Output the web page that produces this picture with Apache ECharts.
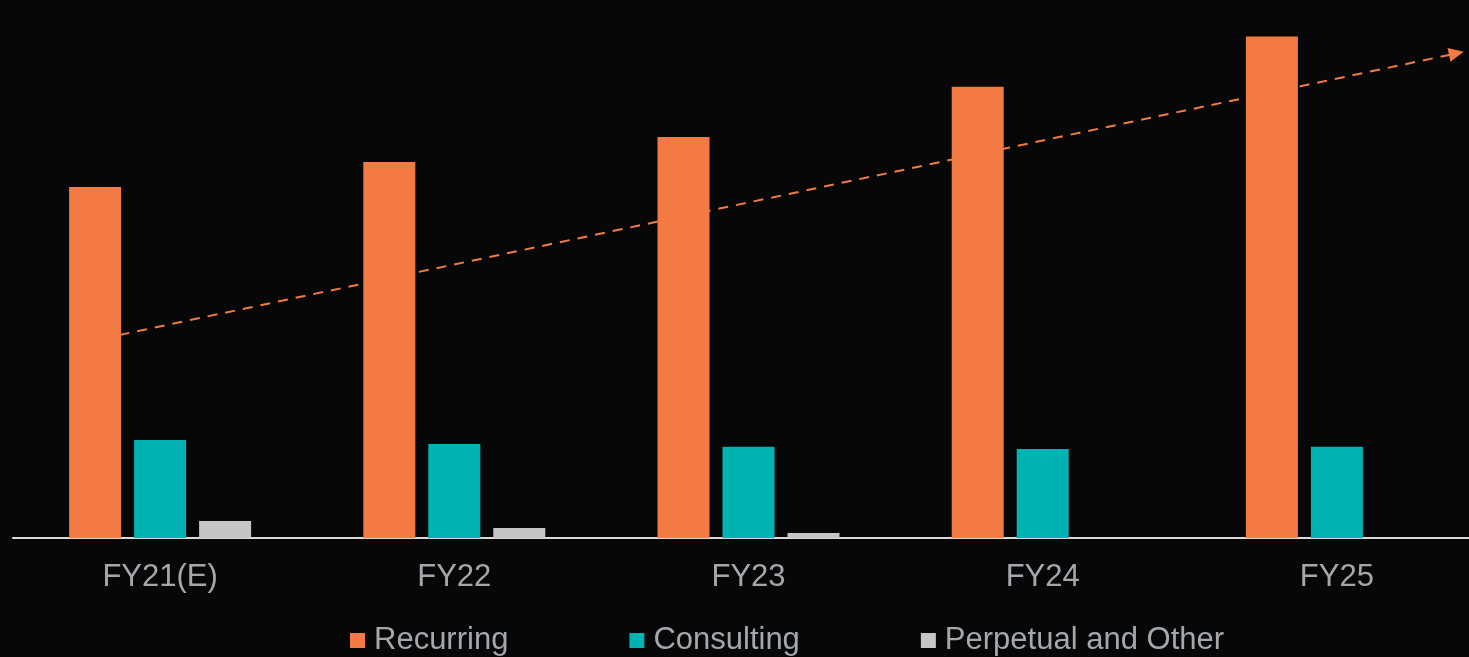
<!DOCTYPE html>
<html>
<head>
<meta charset="utf-8">
<script src="https://cdn.jsdelivr.net/npm/echarts@6/dist/echarts.min.js"></script>
<style>
html,body{margin:0;padding:0;background:#070707;overflow:hidden;width:1469px;height:657px;}
#chart{width:1500px;height:657px;}
</style>
</head>
<body>
<div id="chart"></div>
<script>
const categories = ['FY21(E)', 'FY22', 'FY23', 'FY24', 'FY25'];
const recurring = [70, 75, 80, 90, 100];
const consulting = [19.55, 18.75, 18.2, 17.75, 18.2];
const perpetual = [3.4, 2.0, 1.0, 0, 0];
const seriesNames = ['Recurring', 'Consulting', 'Perpetual and Other'];
// trend arrow endpoints: [position along category axis (0..5), value]
const trendStart = [0.362, 40.5];
const trendEnd = [4.906, 96.65];

const chart = echarts.init(document.getElementById('chart'));
const labelColor = '#A3A8AD';
chart.setOption({
  backgroundColor: '#070707',
  animation: false,
  textStyle: { fontFamily: 'Liberation Sans, Arial, sans-serif' },
  grid: { left: 13, top: 0, width: 1471, height: 538, containLabel: false },
  legend: {
    left: 350, top: 625, padding: 0,
    itemWidth: 15, itemHeight: 15, itemGap: 121,
    icon: 'rect',
    textStyle: { color: labelColor, fontSize: 31, padding: [0, 0, 0, 4] },
    data: seriesNames
  },
  xAxis: [{
    type: 'category',
    data: categories,
    axisLine: { show: true, lineStyle: { color: '#D9D9D9', width: 2 } },
    axisTick: { show: false },
    axisLabel: { color: labelColor, fontSize: 31, margin: 24 }
  }, {
    type: 'value', min: 0, max: 5, show: false
  }],
  yAxis: {
    type: 'value', min: 0, max: 107.3, show: false,
    splitLine: { show: false }
  },
  series: [
    { name: seriesNames[0], type: 'bar', data: recurring, barWidth: 52, barGap: '25%',
      itemStyle: { color: '#F47A44' } },
    { name: seriesNames[1], type: 'bar', data: consulting, barWidth: 52, barGap: '25%',
      itemStyle: { color: '#00B2B2' } },
    { name: seriesNames[2], type: 'bar', data: perpetual, barWidth: 52, barGap: '25%',
      itemStyle: { color: '#C6C6C6' } },
    { name: 'trend', type: 'line', xAxisIndex: 1, data: [], silent: true,
      markLine: {
        silent: true,
        symbol: ['none', 'triangle'],
        symbolSize: [14, 15],
        label: { show: false },
        lineStyle: { color: '#F47A44', width: 2, type: [10, 8] },
        data: [[{ coord: trendStart }, { coord: trendEnd }]]
      }
    }
  ]
});
</script>
</body>
</html>
